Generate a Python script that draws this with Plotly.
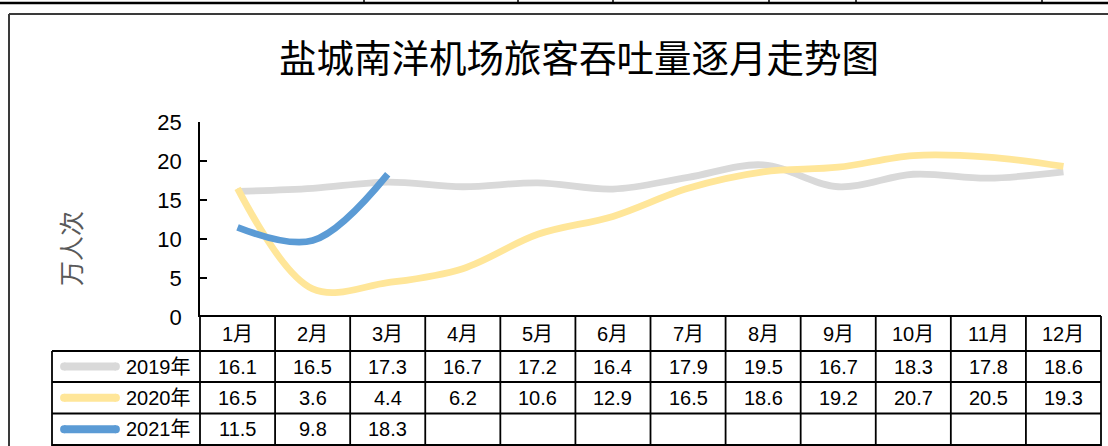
import plotly.graph_objects as go

months = ["1月", "2月", "3月", "4月", "5月", "6月", "7月", "8月", "9月", "10月", "11月", "12月"]
series_names = ["2019年", "2020年", "2021年"]
v2019 = [16.1, 16.5, 17.3, 16.7, 17.2, 16.4, 17.9, 19.5, 16.7, 18.3, 17.8, 18.6]
v2020 = [16.5, 3.6, 4.4, 6.2, 10.6, 12.9, 16.5, 18.6, 19.2, 20.7, 20.5, 19.3]
v2021 = [11.5, 9.8, 18.3]
colors = ["#D9D9D9", "#FFE699", "#5B9BD5"]
title_text = "盐城南洋机场旅客吞吐量逐月走势图"
y_title = "万人次"

W, H = 1108, 446
L, R, T, B = 200, 1101, 122, 317  # plot area in pixels


def px(x):
    return (x - L) / (R - L)


def py(y):
    return (B - y) / (B - T)


fig = go.Figure()
all_series = [v2019, v2020, v2021]
for name, vals, col in zip(series_names, all_series, colors):
    fig.add_trace(go.Scatter(
        x=months[:len(vals)], y=vals, name=name, mode="lines",
        line=dict(color=col, width=6.8, shape="spline", smoothing=1.0),
        showlegend=False, hoverinfo="skip"))

shapes = []
annotations = []
LW = 1.8
blk = "#000000"


def hline(x0, x1, y, w=LW, color=blk):
    shapes.append(dict(type="line", xref="paper", yref="paper",
                       x0=px(x0), x1=px(x1), y0=py(y), y1=py(y),
                       line=dict(color=color, width=w)))


def vline(x, y0, y1, w=LW, color=blk):
    shapes.append(dict(type="line", xref="paper", yref="paper",
                       x0=px(x), x1=px(x), y0=py(y0), y1=py(y1),
                       line=dict(color=color, width=w)))


def text(x, y, s, size=20, xanchor="center", color="#000000", family="Liberation Sans, Arial, Noto Sans CJK SC"):
    annotations.append(dict(xref="paper", yref="paper", x=px(x), y=py(y), text=s,
                            showarrow=False, xanchor=xanchor, yanchor="middle",
                            font=dict(size=size, color=color, family=family)))


# outer decoration: top bar and frame
hline(0, W, 3, w=2.5)
for xv in [364, 518, 613, 769, 856, 1042]:
    vline(xv, 0, 3, w=1.5)
hline(9, W, 14, w=2, color="#3a3a3a")
vline(9, 14, H, w=2, color="#3a3a3a")

# data table
n = len(months)
cw = (R - L) / n
row_lines = [316, 351, 382, 413.5, 445]
for i in range(n + 1):
    vline(L + i * cw, 316, H)
vline(52, 351, H)
hline(L, R, 316)
for yv in row_lines[1:]:
    hline(52, R, yv)

row_centers = [(row_lines[i] + row_lines[i + 1]) / 2 for i in range(4)]
for i, m in enumerate(months):
    text(L + (i + 0.5) * cw, row_centers[0], m)
rad = 3.9
for r, (name, vals, col) in enumerate(zip(series_names, all_series, colors)):
    yc = row_centers[r + 1]
    shapes.append(dict(type="line", xref="paper", yref="paper",
                       x0=px(64), x1=px(116), y0=py(yc), y1=py(yc),
                       line=dict(color=col, width=2 * rad)))
    for cx in (64, 116):
        shapes.append(dict(type="circle", xref="paper", yref="paper",
                           x0=px(cx - rad), x1=px(cx + rad), y0=py(yc + rad), y1=py(yc - rad),
                           fillcolor=col, line=dict(width=0)))
    text(193, yc, name, xanchor="right")
    for i, v in enumerate(vals):
        text(L + (i + 0.5) * cw, yc, f"{v:.1f}")

# title and y label
text(579, 55, title_text, size=37.5, family="Noto Sans CJK SC")
annotations.append(dict(xref="paper", yref="paper", x=px(70), y=py(249), text=y_title,
                        showarrow=False, textangle=-90, xanchor="center", yanchor="middle",
                        font=dict(size=25, color="#595959", family="Noto Sans CJK SC")))

fig.update_layout(
    width=W, height=H, autosize=False,
    margin=dict(l=L, r=W - R, t=T, b=H - B, pad=0),
    paper_bgcolor="white", plot_bgcolor="white",
    shapes=shapes, annotations=annotations,
    xaxis=dict(type="category", categoryarray=months, range=[-0.5, n - 0.5],
               showticklabels=False, showgrid=False, zeroline=False, showline=False, ticks=""),
    yaxis=dict(range=[0, 25], tickvals=[0, 5, 10, 15, 20, 25], showgrid=False, zeroline=False,
               showline=True, linecolor="black", linewidth=1.8, ticks="inside", ticklen=7,
               tickcolor="black", tickwidth=1.8, ticklabelstandoff=12,
               tickfont=dict(size=22, color="black", family="Liberation Sans, Arial")),
)

fig.write_html("out.html", config={"displayModeBar": False},
               post_script="document.body.style.margin='0';document.body.style.padding='0';")
